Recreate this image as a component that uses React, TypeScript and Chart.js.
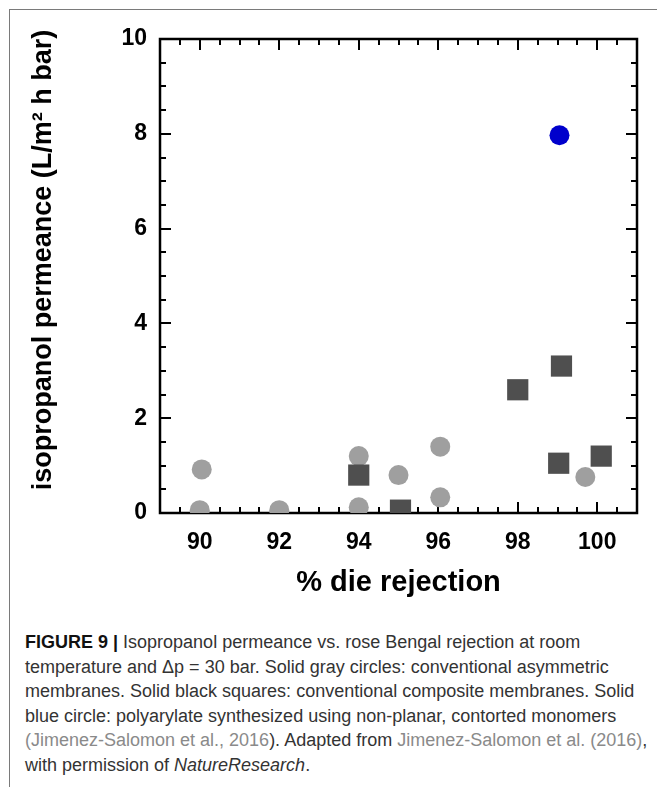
import React, { useEffect, useRef } from 'react';
import { Chart, registerables } from 'chart.js';

Chart.register(...registerables);

// Conventional asymmetric membranes (solid gray circles)
const asymX = [90, 90.05, 92, 94, 94, 95, 96.05, 96.05, 99.7];
const asymY = [0.06, 0.92, 0.06, 1.2, 0.12, 0.8, 1.4, 0.33, 0.76];
// Conventional composite membranes (solid black squares)
const compX = [94, 95.05, 98, 99.1, 99.03, 100.1];
const compY = [0.8, 0.06, 2.6, 3.1, 1.05, 1.2];
// Polyarylate from contorted monomers (solid blue circle)
const polyX = [99.05];
const polyY = [7.97];

const X_TICKS = [90, 92, 94, 96, 98, 100];
const Y_TICKS = [0, 2, 4, 6, 8, 10];
const X_MIN = 89;
const X_MAX = 101;
const Y_MIN = 0;
const Y_MAX = 10;
const MINOR_STEP = 0.5;

const X_TITLE = '% die rejection';
const Y_TITLE = 'isopropanol permeance (L/m\u00B2 h bar)';

const FONT = "'Liberation Sans', Arial, Helvetica, sans-serif";

// layout constants for the y-axis title (drawn by a small plugin)
const Y_TITLE_X = 44;
const Y_TITLE_SHIFT = -16;

const toPoints = (xs: number[], ys: number[]) => xs.map((x, i) => ({ x, y: ys[i] }));

const frameTicks = {
  id: 'frameTicks',
  beforeDatasetsDraw(chart: any) {
    const { ctx, chartArea } = chart;
    const { left, right, top, bottom } = chartArea;
    const xs = chart.scales.x;
    const ys = chart.scales.y;
    ctx.save();
    ctx.strokeStyle = '#000';
    ctx.lineWidth = 2;
    ctx.beginPath();
    for (let v = X_MIN + MINOR_STEP; v < X_MAX - 1e-9; v += MINOR_STEP) {
      const px = Math.round(xs.getPixelForValue(v));
      const len = X_TICKS.includes(v) ? 11 : 6;
      ctx.moveTo(px, bottom);
      ctx.lineTo(px, bottom - len);
      ctx.moveTo(px, top);
      ctx.lineTo(px, top + len);
    }
    for (let v = Y_MIN + MINOR_STEP; v < Y_MAX - 1e-9; v += MINOR_STEP) {
      const py = Math.round(ys.getPixelForValue(v));
      const len = Y_TICKS.includes(v) ? 11 : 6;
      ctx.moveTo(left, py);
      ctx.lineTo(left + len, py);
      ctx.moveTo(right, py);
      ctx.lineTo(right - len, py);
    }
    ctx.stroke();
    ctx.lineWidth = 2.5;
    ctx.strokeRect(left, top, right - left, bottom - top);
    ctx.restore();
  },
  afterDraw(chart: any) {
    const { ctx, chartArea } = chart;
    const cy = (chartArea.top + chartArea.bottom) / 2 + Y_TITLE_SHIFT;
    ctx.save();
    ctx.translate(Y_TITLE_X, cy);
    ctx.rotate(-Math.PI / 2);
    ctx.fillStyle = '#000';
    ctx.font = `bold 27px ${FONT}`;
    ctx.textAlign = 'center';
    ctx.textBaseline = 'middle';
    ctx.fillText(Y_TITLE, 0, 0);
    ctx.restore();
  },
};

export default function App() {
  const canvasRef = useRef<HTMLCanvasElement | null>(null);

  useEffect(() => {
    if (!canvasRef.current) return;
    const chart = new Chart(canvasRef.current, {
      type: 'scatter',
      data: {
        datasets: [
          {
            label: 'Polyarylate (contorted monomers)',
            data: toPoints(polyX, polyY),
            pointStyle: 'circle',
            pointRadius: 10,
            backgroundColor: '#0000cc',
            borderWidth: 0,
          },
          {
            label: 'Conventional composite membranes',
            data: toPoints(compX, compY),
            pointStyle: 'rect',
            pointRadius: 15,
            backgroundColor: '#4f4f4f',
            borderWidth: 0,
          },
          {
            label: 'Conventional asymmetric membranes',
            data: toPoints(asymX, asymY),
            pointStyle: 'circle',
            pointRadius: 10,
            backgroundColor: '#9f9f9f',
            borderWidth: 0,
          },
        ],
      },
      options: {
        animation: false,
        responsive: false,
        maintainAspectRatio: false,
        layout: { padding: { top: 39, right: 20, left: 0, bottom: 0 } },
        plugins: { legend: { display: false }, tooltip: { enabled: false } },
        scales: {
          x: {
            type: 'linear',
            min: X_MIN,
            max: X_MAX,
            afterBuildTicks: (s: any) => {
              s.ticks = X_TICKS.map((v) => ({ value: v }));
            },
            afterFit: (s: any) => {
              s.height = 107;
            },
            grid: { display: false, drawTicks: false },
            border: { display: false },
            ticks: {
              color: '#000',
              padding: 16,
              maxRotation: 0,
              font: { family: FONT, size: 23, weight: 'bold' },
            },
            title: {
              display: true,
              text: X_TITLE,
              color: '#000',
              font: { family: FONT, size: 29, weight: 'bold' },
              padding: { top: 0, bottom: 20 },
            },
          },
          y: {
            type: 'linear',
            min: Y_MIN,
            max: Y_MAX,
            afterBuildTicks: (s: any) => {
              s.ticks = Y_TICKS.map((v) => ({ value: v }));
            },
            afterFit: (s: any) => {
              s.width = 160;
            },
            grid: { display: false, drawTicks: false },
            border: { display: false },
            ticks: {
              color: '#000',
              padding: 13,
              font: { family: FONT, size: 23, weight: 'bold' },
            },
            title: { display: false, text: Y_TITLE },
          },
        },
      },
      plugins: [frameTicks],
    } as any);
    return () => chart.destroy();
  }, []);

  const link = { color: '#8a8a8a' };

  return (
    <div style={{ position: 'fixed', left: 0, top: 0, width: 657, height: 787, overflow: 'hidden', background: '#fff' }}>
      <div
        style={{
          position: 'absolute',
          left: 9,
          top: 9,
          width: 700,
          height: 800,
          borderLeft: '1.5px solid #7a7a7a',
          borderTop: '1.5px solid #7a7a7a',
        }}
      />
      <canvas
        ref={canvasRef}
        width={657}
        height={620}
        style={{ position: 'absolute', left: 0, top: 0, width: 657, height: 620 }}
      />
      <div
        style={{
          position: 'absolute',
          left: 25,
          top: 630,
          fontFamily: FONT,
          fontSize: 18,
          lineHeight: '24.6px',
          color: '#333',
          whiteSpace: 'nowrap',
        }}
      >
        <div>
          <b style={{ color: '#111' }}>FIGURE 9 |</b> Isopropanol permeance vs. rose Bengal rejection at room
        </div>
        <div>temperature and Δp = 30 bar. Solid gray circles: conventional asymmetric</div>
        <div>membranes. Solid black squares: conventional composite membranes. Solid</div>
        <div>blue circle: polyarylate synthesized using non-planar, contorted monomers</div>
        <div>
          <span style={link}>(Jimenez-Salomon et al., 2016</span>). Adapted from{' '}
          <span style={link}>Jimenez-Salomon et al. (2016)</span>,
        </div>
        <div>
          with permission of <i>NatureResearch</i>.
        </div>
      </div>
    </div>
  );
}
